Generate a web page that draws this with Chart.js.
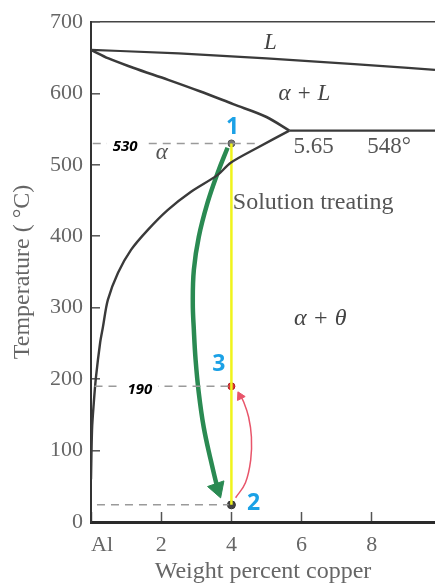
<!DOCTYPE html>
<html><head><meta charset="utf-8">
<script src="https://cdn.jsdelivr.net/npm/chart.js@4.4.1/dist/chart.umd.min.js"></script>
<style>html,body{margin:0;padding:0;background:#fff;}#w{width:435px;height:584px;}</style>
</head><body><div id="w"><canvas id="c" width="435" height="584"></canvas></div>
<script>
// ---- data (wt% Cu, °C) ----
const xTicks = [0, 2, 4, 6, 8];
const yTicks = [0, 100, 200, 300, 400, 500, 600, 700];
const liquidus = [[0,661],[2.5,656],[5,649],[7.5,641],[9.8,633]];
const solidus = [[0,661],[0.5,649],[1.2,636],[2.2,619],[3.1,603],[4.05,585],[5.0,567],[5.65,548]];
const eutectic = [[5.65,548],[9.8,548]];
const solvus = [[5.65,548],[4.74,524],[3.98,503],[3.61,486],[2.84,462],[2.19,437],[1.62,409],[1.14,381],[0.77,349],[0.48,311],[0.34,273],[0.26,251],[0.14,202],[0.08,167],[0.03,130],[0,60]];
const treatLine = [[4,530],[4,24]];
const dash530 = [[0.05,530],[4.7,530]];
const dash190 = [[0.1,190],[4,190]];
const dash24 = [[0.17,24],[3.92,24]];
const quench = [[3.89,524],[3.61,489],[3.32,447],[3.07,399],[2.93,353],[2.9,307],[2.93,269],[2.98,227],[3.07,181],[3.21,133],[3.41,87],[3.58,52]];
const quenchHead = [[3.6,47]];
const ageing = [[4.12,34],[4.4,55],[4.55,87],[4.57,119],[4.49,147],[4.35,168],[4.24,178]];
const ageingHead = [[4.25,176]];
const stateX = [4, 4, 4];
const stateT = [530, 190, 24];
const labels = [
  {t:'L', x:5.11, y:671, f:'italic 23px "Liberation Serif"', c:'#444'},
  {t:'α + L', x:6.08, y:599, f:'italic 23px "Liberation Serif"', c:'#444'},
  {t:'5.65', x:6.34, y:525, f:'23px "Liberation Serif"', c:'#555'},
  {t:'548°', x:8.49, y:525, f:'23px "Liberation Serif"', c:'#555'},
  {t:'α', x:2.02, y:516, f:'italic 23px "Liberation Serif"', c:'#555'},
  {t:'Solution treating', x:4.04, y:447, f:'24px "Liberation Serif"', c:'#555', a:'left'},
  {t:'α + θ', x:6.53, y:284, f:'italic 24px "Liberation Serif"', c:'#444'},
  {t:'530', x:0.97, y:525, f:'bold italic 15px "Open Sans"', c:'#000', bg:true},
  {t:'190', x:1.39, y:185, f:'bold italic 15px "Open Sans"', c:'#000', bg:true},
  {t:'1', x:4.03, y:553, f:'bold 23px "Open Sans"', c:'#1ba1e6'},
  {t:'3', x:3.64, y:221, f:'bold 23px "Open Sans"', c:'#1ba1e6'},
  {t:'2', x:4.63, y:26, f:'bold 23px "Open Sans"', c:'#1ba1e6'}
];

const pts = a => a.map(p => ({x:p[0], y:p[1]}));
const line = (d, color, w, extra) => Object.assign({data:pts(d), showLine:true, borderColor:color, borderWidth:w, pointRadius:0, fill:false, tension:0.4, cubicInterpolationMode:'monotone'}, extra||{});

const textPlugin = {
  id:'texts',
  afterDatasetsDraw(chart){
    const {ctx, scales:{x, y}} = chart;
    ctx.save();
    ctx.textBaseline = 'middle';
    for (const l of labels){
      ctx.font = l.f;
      ctx.textAlign = l.a || 'center';
      const px = x.getPixelForValue(l.x), py = y.getPixelForValue(l.y);
      if (l.bg){
        const w = ctx.measureText(l.t).width;
        ctx.fillStyle = '#fff';
        ctx.fillRect(px - w/2 - 6, py - 9, w + 12, 16);
      }
      ctx.fillStyle = l.c;
      ctx.fillText(l.t, px, py);
    }
    ctx.restore();
  }
};

new Chart(document.getElementById('c'), {
  type:'scatter',
  data:{datasets:[
    line(dash530, '#9a9a9a', 1.5, {borderDash:[8,6], tension:0}),
    line(dash190, '#9a9a9a', 1.5, {borderDash:[8,6], tension:0}),
    line(dash24, '#9a9a9a', 1.5, {borderDash:[8,6], tension:0}),
    line(liquidus, '#3a3a3a', 2.2),
    line(solidus, '#3a3a3a', 2.6),
    line(eutectic, '#3a3a3a', 2.2, {tension:0}),
    line(solvus, '#3a3a3a', 2.4, {cubicInterpolationMode:'default', tension:0.3}),
    line(treatLine, '#f0f41c', 2.5, {tension:0}),
    line(quench, '#2a8a52', 4.5, {cubicInterpolationMode:'default', tension:0.4}),
    {data:pts(quenchHead), pointStyle:'triangle', pointRadius:10, rotation:161, backgroundColor:'#2a8a52', borderColor:'#2a8a52', borderWidth:1},
    line(ageing, '#e8556a', 1.5, {cubicInterpolationMode:'default', tension:0.4}),
    {data:pts(ageingHead), pointStyle:'triangle', pointRadius:5, rotation:-27, backgroundColor:'#e8556a', borderColor:'#e8556a', borderWidth:1},
    {data:stateX.map((v,i)=>({x:v, y:stateT[i]})), pointRadius:[3.5,3.5,4], backgroundColor:['#777','#e03535','#444'], borderColor:['#555','#b02020','#333'], borderWidth:1}
  ]},
  options:{
    responsive:false, animation:false, devicePixelRatio:1,
    layout:{autoPadding:false, padding:{top:22, right:0, bottom:0, left:0}},
    plugins:{legend:{display:false}, tooltip:{enabled:false}},
    scales:{
      x:{type:'linear', min:0, max:9.8,
        afterBuildTicks:s=>{s.ticks = xTicks.map(v=>({value:v}));},
        afterFit:s=>{s.height = 62; s.paddingLeft = 0; s.paddingRight = 0;},
        border:{display:true, color:'#2a2a2a', width:3},
        grid:{drawOnChartArea:false, drawTicks:true, tickLength:-10, tickColor:'#555', tickWidth:1.5},
        ticks:{padding:20, color:'#666', font:{family:'"Liberation Serif"', size:22}, callback:v=> v===0 ? '\u2002\u2002Al' : String(v)},
        title:{display:true, text:'Weight percent copper', color:'#666', font:{family:'"Liberation Serif"', size:24, lineHeight:1}, padding:{top:0,bottom:0}}
      },
      y:{type:'linear', min:0, max:700,
        afterBuildTicks:s=>{s.ticks = yTicks.map(v=>({value:v}));},
        afterFit:s=>{s.width = 91; s.paddingTop = 0; s.paddingBottom = 0;},
        border:{display:true, color:'#333', width:2},
        grid:{drawOnChartArea:true, drawTicks:true, tickLength:-9, tickColor:'#555', tickWidth:1.5,
          color:c=> c.tick && c.tick.value===700 ? '#444' : 'rgba(0,0,0,0)', lineWidth:1.6},
        ticks:{padding:17, color:'#666', font:{family:'"Liberation Serif"', size:22}},
        title:{display:true, text:'Temperature ( °C)', color:'#666', font:{family:'"Liberation Serif"', size:24, lineHeight:1.2}, padding:{top:8,bottom:0}}
      }
    }
  },
  plugins:[textPlugin]
});
</script>
</body></html>
